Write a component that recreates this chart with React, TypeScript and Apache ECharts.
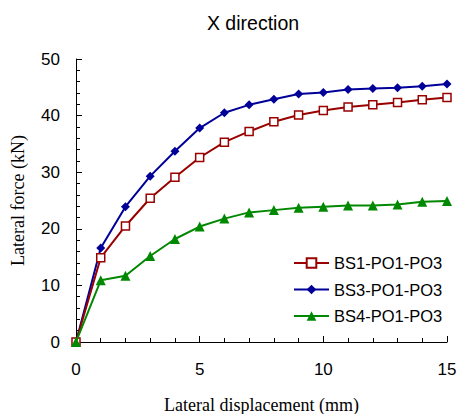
import React, { useEffect, useRef } from "react";
import * as echarts from "echarts";

const displacement = [0, 1, 2, 3, 4, 5, 6, 7, 8, 9, 10, 11, 12, 13, 14, 15];
const bs1 = [0, 14.9, 20.5, 25.4, 29.1, 32.6, 35.3, 37.2, 38.9, 40.1, 40.9, 41.5, 41.9, 42.3, 42.8, 43.2];
const bs3 = [0, 16.6, 23.9, 29.3, 33.7, 37.8, 40.5, 41.9, 42.9, 43.8, 44.1, 44.6, 44.8, 44.9, 45.2, 45.6];
const bs4 = [0, 10.9, 11.7, 15.2, 18.2, 20.4, 21.8, 22.9, 23.3, 23.7, 23.9, 24.1, 24.1, 24.3, 24.8, 24.9];
const seriesNames = ["BS1-PO1-PO3", "BS3-PO1-PO3", "BS4-PO1-PO3"];
const titleText = "X direction";
const xName = "Lateral displacement (mm)";
const yName = "Lateral force (kN)";

const RED = "#990000";
const BLUE = "#000099";
const GREEN = "#008800";

export default function App() {
  const ref = useRef<HTMLDivElement>(null);
  useEffect(() => {
    if (!ref.current) return;
    const chart = echarts.init(ref.current, undefined, { renderer: "svg" });
    const pairs = (ys: number[]) => displacement.map((x, i) => [x, ys[i]]);
    const sans = "'Liberation Sans', Arial, sans-serif";
    const serif = "'Liberation Serif', 'Times New Roman', serif";
    const axisCommon = {
      axisLine: { show: true, lineStyle: { color: "#000", width: 1 } },
      axisTick: { show: true, inside: true, length: 6, lineStyle: { color: "#000" } },
      minorTick: { show: true, splitNumber: 5, length: 4, lineStyle: { color: "#000" } },
      splitLine: { show: false },
      minorSplitLine: { show: false },
      nameLocation: "middle" as const,
      nameTextStyle: { fontFamily: serif, fontSize: 18, color: "#000" },
    };
    chart.setOption({
      animation: false,
      backgroundColor: "#fff",
      title: {
        text: titleText,
        left: 253,
        top: 13,
        padding: 0,
        textAlign: "center",
        textStyle: { fontFamily: sans, fontSize: 19.5, fontWeight: "normal", color: "#000" },
      },
      grid: {
        left: 76,
        right: 11,
        top: 59,
        bottom: 72,
        containLabel: false,
        outerBoundsMode: "none",
      },
      xAxis: {
        type: "value",
        min: 0,
        max: 15,
        interval: 5,
        name: xName,
        nameGap: 54,
        ...axisCommon,
        axisLabel: { margin: 19, fontFamily: sans, fontSize: 17, color: "#000" },
      },
      yAxis: {
        type: "value",
        min: 0,
        max: 50,
        interval: 10,
        name: yName,
        nameGap: 49,
        ...axisCommon,
        axisLabel: { margin: 16, fontFamily: sans, fontSize: 17, color: "#000" },
      },
      legend: {
        orient: "vertical",
        left: 293,
        top: 254,
        padding: 0,
        itemWidth: 35,
        itemHeight: 12,
        itemGap: 8.5,
        textStyle: { fontFamily: sans, fontSize: 16.5, color: "#000", lineHeight: 18 },
        data: seriesNames,
      },
      series: [
        {
          name: seriesNames[0],
          type: "line",
          data: pairs(bs1),
          symbol: "rect",
          symbolSize: 8,
          clip: false,
          lineStyle: { color: RED, width: 2 },
          itemStyle: { color: "#fff", borderColor: RED, borderWidth: 1.5 },
          z: 3,
        },
        {
          name: seriesNames[1],
          type: "line",
          data: pairs(bs3),
          symbol: "diamond",
          symbolSize: 9,
          clip: false,
          lineStyle: { color: BLUE, width: 2 },
          itemStyle: { color: BLUE },
          z: 2,
        },
        {
          name: seriesNames[2],
          type: "line",
          data: pairs(bs4),
          symbol: "triangle",
          symbolSize: 10,
          clip: false,
          lineStyle: { color: GREEN, width: 2 },
          itemStyle: { color: GREEN },
          z: 4,
        },
      ],
    });
    return () => chart.dispose();
  }, []);
  return <div ref={ref} style={{ width: 458, height: 414, position: "absolute", left: 0, top: 0 }} />;
}
